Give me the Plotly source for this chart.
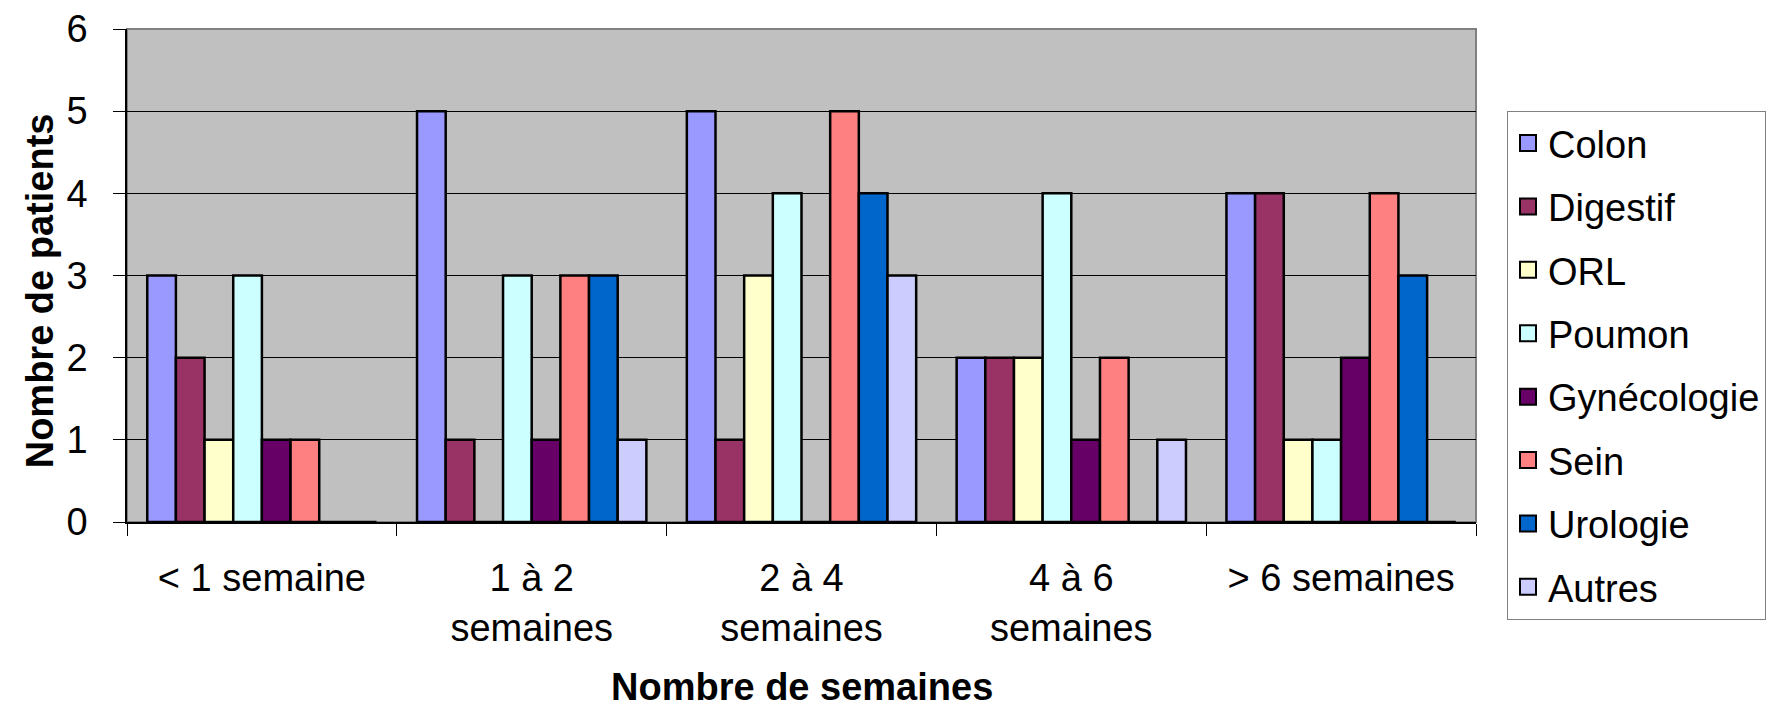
import plotly.graph_objects as go

categories = ["< 1 semaine", "1 à 2<br>semaines", "2 à 4<br>semaines", "4 à 6<br>semaines", "> 6 semaines"]
series_names = ["Colon", "Digestif", "ORL", "Poumon", "Gynécologie", "Sein", "Urologie", "Autres"]
colon = [3, 5, 5, 2, 4]
digestif = [2, 1, 1, 2, 4]
orl = [1, 0, 3, 2, 1]
poumon = [3, 3, 4, 4, 1]
gynecologie = [1, 1, 0, 1, 2]
sein = [1, 3, 5, 2, 4]
urologie = [0, 3, 4, 0, 3]
autres = [0, 1, 3, 1, 0]
series_values = [colon, digestif, orl, poumon, gynecologie, sein, urologie, autres]
colors = ["#9999FF", "#993366", "#FFFFCC", "#CCFFFF", "#660066", "#FF8080", "#0066CC", "#CCCCFF"]
y_ticks = [0, 1, 2, 3, 4, 5, 6]

FONT = "Liberation Sans, Arial, sans-serif"

fig = go.Figure()
for name, vals, col in zip(series_names, series_values, colors):
    fig.add_trace(go.Bar(
        x=categories, y=vals, name=name,
        marker=dict(color=col, line=dict(color="black", width=2.5)),
        showlegend=False, legendgroup=name,
    ))
for name, col in zip(series_names, colors):
    fig.add_trace(go.Scatter(
        x=[None], y=[None], mode="markers", name=name, legendgroup=name,
        marker=dict(symbol="square", size=16, color=col, line=dict(color="black", width=2)),
    ))

fig.update_layout(
    width=1778, height=716,
    margin=dict(l=119, r=310, t=21, b=202, autoexpand=False),
    paper_bgcolor="white", plot_bgcolor="#C0C0C0",
    barmode="group", bargap=0.15, bargroupgap=0,
    font=dict(family=FONT, size=38, color="black"),
    legend=dict(
        x=1.023, y=0.834, xanchor="left", yanchor="top",
        bgcolor="white", bordercolor="#808080", borderwidth=1,
        font=dict(family=FONT, size=38, color="black"),
        traceorder="grouped", tracegroupgap=11,
        itemsizing="trace", maxheight=650,
    ),
    xaxis=dict(
        type="category", tickson="boundaries", ticks="outside", ticklen=12,
        tickcolor="black", tickwidth=1, showline=True, linecolor="black", linewidth=1.5,
        showgrid=False, ticklabelstandoff=22, automargin=False,
        tickfont=dict(family=FONT, size=38, color="black"),
    ),
    yaxis=dict(
        range=[0, 6], tickvals=y_ticks, ticks="outside", ticklen=12,
        tickcolor="black", tickwidth=1, showline=True, linecolor="black", linewidth=1.5,
        showgrid=True, gridcolor="#000000", gridwidth=1, zeroline=False,
        ticklabelstandoff=18, automargin=False,
        tickfont=dict(family=FONT, size=38, color="black"),
    ),
    shapes=[dict(type="rect", xref="paper", yref="paper", x0=0, x1=1, y0=0, y1=1,
                 line=dict(color="#808080", width=2), layer="below")],
    annotations=[
        dict(text="<b>Nombre de semaines</b>", xref="paper", yref="paper", x=0.5, y=-0.335,
             xanchor="center", yanchor="middle", showarrow=False,
             font=dict(family=FONT, size=38, color="black")),
        dict(text="<b>Nombre de patients</b>", xref="paper", yref="paper", x=-0.0645, y=0.47,
             xanchor="center", yanchor="middle", showarrow=False, textangle=-90,
             font=dict(family=FONT, size=38, color="black")),
    ],
)

fig.write_html("out.html")
